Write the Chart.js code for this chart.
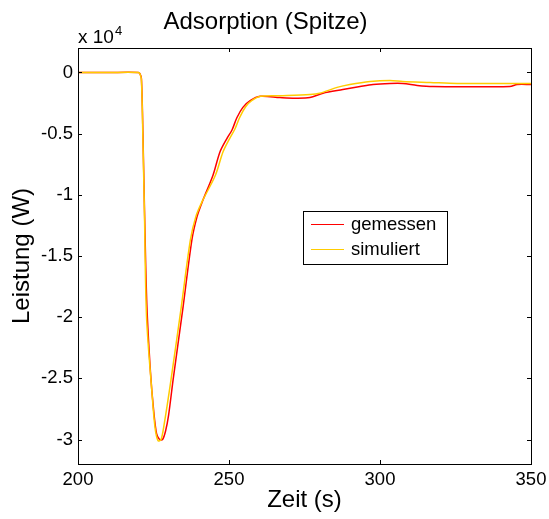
<!DOCTYPE html>
<html>
<head>
<meta charset="utf-8">
<script src="https://cdn.jsdelivr.net/npm/chart.js@4/dist/chart.umd.min.js"></script>
<style>
    html, body { margin: 0; padding: 0; background: #fff; }
    #wrap { width: 549px; height: 519px; }
</style>
</head>
<body>
<div id="wrap"><canvas id="adsChart" width="549" height="519"></canvas></div>
<script>
// Zeit (s) / Leistung (W)
const gemessenT = [200, 210, 220, 220.5, 221, 221.5, 222, 222.8, 224, 225, 226, 227, 228, 229, 230, 231.5,
    234.8, 237.7, 239.4, 241.1, 244.7, 247, 249.3, 251, 252.6, 254.6, 257, 260.3, 266.9, 271.9, 276.8,
    281.1, 287.7, 293.4, 297.7, 303.3, 307.6, 312.3, 317.5, 343, 345.4, 350];
const gemessenW = [0, 0, 0, -100, -500, -5000, -11000, -19000, -24500, -27500, -29500, -30000, -30000, -29300, -28000, -25100,
    -19150, -13700, -11800, -10600, -8400, -6500, -5400, -4700, -3700, -2850, -2300, -1950, -2050, -2100, -2050,
    -1700, -1400, -1150, -980, -900, -900, -1060, -1150, -1150, -980, -980];

const simuliertT = [200, 210, 220, 220.5, 221, 221.5, 222, 222.7, 224.5, 225.5, 226.5, 227.5, 228.5, 230.8,
    234.2, 237.2, 239, 241.2, 245.5, 248, 250.2, 252, 253.5, 255.5, 257.5, 260.5, 266.9, 276.8,
    280, 285.8, 290, 296.7, 303.3, 307.6, 316.6, 325.5, 350];
const simuliertW = [0, 0, 0, -100, -600, -5500, -11500, -20000, -26200, -29000, -30100, -30000, -28800, -25100,
    -19150, -13700, -11800, -10500, -8400, -6500, -5400, -4600, -3700, -2800, -2300, -1950, -1900, -1800,
    -1700, -1220, -980, -730, -650, -730, -815, -900, -900];

const xTicks = [200, 250, 300, 350];
const yTicks = [0, -5000, -10000, -15000, -20000, -25000, -30000];

const FONT = '"Liberation Sans", Arial, sans-serif';

function toPoints(ts, ws) {
    return ts.map((t, i) => ({ x: t, y: ws[i] }));
}

// frame, inward tick marks, exponent label and boxed legend (MATLAB look)
const matlabFrame = {
    id: 'matlabFrame',
    afterDraw(chart) {
        const ctx = chart.ctx;
        const a = chart.chartArea;
        const xs = chart.scales.x, ys = chart.scales.y;
        ctx.save();
        ctx.strokeStyle = '#000';
        ctx.lineWidth = 1;
        ctx.beginPath();
        xTicks.forEach(v => {
            const px = Math.round(xs.getPixelForValue(v)) + 0.5;
            ctx.moveTo(px, a.bottom); ctx.lineTo(px, a.bottom - 4);
            ctx.moveTo(px, a.top); ctx.lineTo(px, a.top + 4);
        });
        yTicks.forEach(v => {
            const py = Math.round(ys.getPixelForValue(v)) + 0.5;
            ctx.moveTo(a.left, py); ctx.lineTo(a.left + 4, py);
            ctx.moveTo(a.right, py); ctx.lineTo(a.right - 4, py);
        });
        ctx.stroke();
        ctx.strokeRect(Math.round(a.left) + 0.5, Math.round(a.top) + 0.5,
            Math.round(a.right - a.left), Math.round(a.bottom - a.top));

        // exponent
        ctx.fillStyle = '#000';
        ctx.textBaseline = 'alphabetic';
        ctx.textAlign = 'left';
        ctx.font = '19px ' + FONT;
        ctx.fillText('x 10', a.left, a.top - 5);
        const w = ctx.measureText('x 10').width;
        ctx.font = '13px ' + FONT;
        ctx.fillText('4', a.left + w + 1, a.top - 13);

        // legend
        const lx = a.left + 225, ly = a.top + 163, lw = 144, lh = 53;
        ctx.fillStyle = '#fff';
        ctx.fillRect(lx, ly, lw, lh);
        ctx.strokeRect(lx + 0.5, ly + 0.5, lw, lh);
        ctx.font = '18.5px ' + FONT;
        ctx.textBaseline = 'middle';
        chart.data.datasets.forEach((ds, i) => {
            const yy = ly + 13 + i * 25;
            ctx.strokeStyle = ds.borderColor;
            ctx.lineWidth = 1;
            ctx.beginPath();
            ctx.moveTo(lx + 8, yy + 0.5); ctx.lineTo(lx + 41, yy + 0.5);
            ctx.stroke();
            ctx.fillStyle = '#000';
            ctx.fillText(ds.label, lx + 48, yy + 1);
        });
        ctx.restore();
    }
};

new Chart(document.getElementById('adsChart'), {
    type: 'line',
    data: {
        datasets: [
            {
                label: 'gemessen',
                data: toPoints(gemessenT, gemessenW),
                borderColor: '#ff0000',
                borderWidth: 1.5,
                pointRadius: 0,
                tension: 0.3,
                order: 1
            },
            {
                label: 'simuliert',
                data: toPoints(simuliertT, simuliertW),
                borderColor: '#ffcc00',
                borderWidth: 1.5,
                pointRadius: 0,
                tension: 0.3,
                order: 0
            }
        ]
    },
    options: {
        responsive: false,
        animation: false,
        layout: { padding: { left: 0, right: 18, top: 0, bottom: 0 } },
        scales: {
            x: {
                type: 'linear',
                min: 200,
                max: 350,
                afterBuildTicks: s => { s.ticks = xTicks.map(v => ({ value: v })); },
                afterFit: s => { s.height = 55; s.paddingRight = 0; },
                grid: { display: false, drawTicks: false },
                border: { display: false },
                ticks: {
                    padding: 5,
                    color: '#000',
                    font: { family: FONT, size: 18.5 },
                    maxRotation: 0
                },
                title: {
                    display: true,
                    text: 'Zeit (s)',
                    color: '#000',
                    padding: 4,
                    font: { family: FONT, size: 24 }
                }
            },
            y: {
                min: -32000,
                max: 2000,
                afterBuildTicks: s => { s.ticks = yTicks.map(v => ({ value: v })); },
                afterFit: s => { s.width = 78; },
                grid: { display: false, drawTicks: false },
                border: { display: false },
                ticks: {
                    padding: 5,
                    color: '#000',
                    font: { family: FONT, size: 18.5 },
                    callback: v => String(v / 10000)
                },
                title: {
                    display: true,
                    text: 'Leistung (W)',
                    color: '#000',
                    padding: 8,
                    font: { family: FONT, size: 24 }
                }
            }
        },
        plugins: {
            legend: { display: false },
            tooltip: { enabled: false },
            title: {
                display: true,
                text: 'Adsorption (Spitze)',
                color: '#000',
                padding: { top: 7.6, bottom: 11.6 },
                font: { family: FONT, size: 24, weight: 'normal' }
            }
        }
    },
    plugins: [matlabFrame]
});
</script>
</body>
</html>
